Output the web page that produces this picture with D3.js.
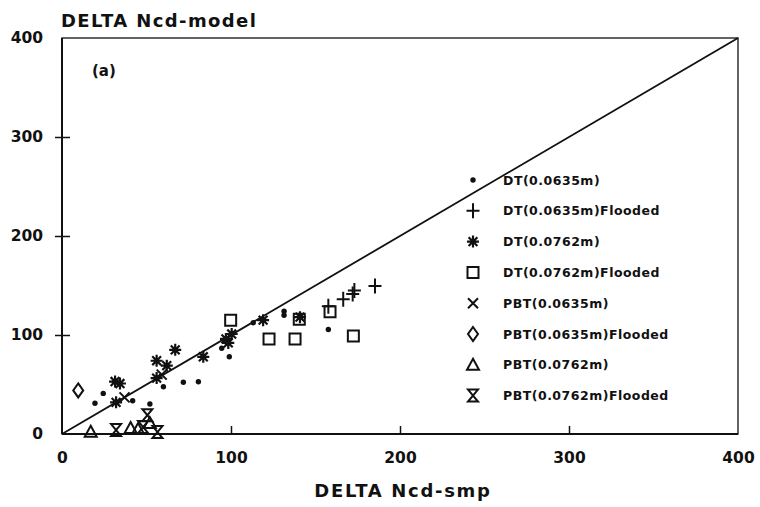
<!DOCTYPE html>
<html>
<head>
<meta charset="utf-8">
<script src="https://cdn.jsdelivr.net/npm/d3@7"></script>
<style>
  body { margin: 0; background: #fff; }
  text { font-family: "DejaVu Sans", sans-serif; font-weight: bold; fill: #111; }
</style>
</head>
<body>
<script>
var width = 760,
    height = 507;

// ticks
var ticks = [0, 100, 200, 300, 400];

// series, [smp, model]
var dt0635 = [[19.5,31],[24.4,41],[41.8,33.6],[52,30.3],[60,47.8],[71.8,52.2],[80.7,52.8],[99,78],[94.5,86.6],[113.2,112.4],[131.4,120],[131.4,124],[157.6,105.5]];
var dt0635F = [[157.6,129],[166.4,136],[172,141.5],[173,145],[185.2,149.5]];
var dt0762 = [[31.4,53],[32,32],[34.3,51],[56,56.5],[56,74],[62,69],[67,85],[83.6,78],[98.4,92],[100.4,101],[97,96],[119,115],[140.8,118]];
var dt0762F = [[99.8,115],[122.5,96],[137.9,96],[140.4,116],[158.6,123.5],[172.4,99]];
var pbt0635 = [[37,37],[59,60]];
var pbt0635F = [[9.6,44]];
var pbt0762 = [[17,2.3],[40.6,6],[45,5],[52,11]];
var pbt0762F = [[32,4],[50.5,19],[56.5,2],[48,7]];

var legendNames = ["DT(0.0635m)", "DT(0.0635m)Flooded", "DT(0.0762m)", "DT(0.0762m)Flooded",
                   "PBT(0.0635m)", "PBT(0.0635m)Flooded", "PBT(0.0762m)", "PBT(0.0762m)Flooded"];

var x = d3.scaleLinear().domain([0, 400]).range([62, 738]);
var y = d3.scaleLinear().domain([0, 400]).range([434, 38]);

var svg = d3.select("body").append("svg")
    .attr("width", width)
    .attr("height", height);

svg.append("rect").attr("width", width).attr("height", height).attr("fill", "#fff");

// marker paths, centred on 0,0
var shapes = {
  dot: "M-2.7,0a2.7,2.7 0 1,0 5.4,0a2.7,2.7 0 1,0 -5.4,0",
  plus: "M-6.5,0H6.5M0,-7.5V7.5",
  star: "M-6,0H6M0,-6V6M-4.4,-4.4L4.4,4.4M-4.4,4.4L4.4,-4.4",
  square: "M-5.5,-5.5H5.5V5.5H-5.5Z",
  cross: "M-5,-5L5,5M-5,5L5,-5",
  diamond: "M0,-7L5,0L0,7L-5,0Z",
  triangle: "M0,-6L6,5H-6Z",
  hourglass: "M-5,-6H5L-5,6H5Z"
};

var series = [
  {data: dt0635, shape: "dot", fill: true},
  {data: dt0635F, shape: "plus"},
  {data: dt0762, shape: "star"},
  {data: dt0762F, shape: "square"},
  {data: pbt0635, shape: "cross"},
  {data: pbt0635F, shape: "diamond"},
  {data: pbt0762, shape: "triangle"},
  {data: pbt0762F, shape: "hourglass"}
];

function styleMarker(sel, s) {
  sel.attr("d", shapes[s.shape])
    .attr("fill", s.fill ? "#111" : "none")
    .attr("stroke", "#111")
    .attr("stroke-width", s.shape == "dot" ? 0 : (s.shape == "star" ? 2.2 : 2));
  if (s.shape == "star") {
    // little core for the asterisk
    sel.each(function() {
      d3.select(this.parentNode).append("circle")
        .attr("transform", d3.select(this).attr("transform"))
        .attr("r", 2.6).attr("fill", "#111");
    });
  }
}

// frame
svg.append("rect")
    .attr("x", x(0)).attr("y", y(400))
    .attr("width", x(400) - x(0)).attr("height", y(0) - y(400))
    .attr("fill", "none").attr("stroke", "#111").attr("stroke-width", 1.3);
svg.append("line")
    .attr("x1", x(0)).attr("x2", x(0)).attr("y1", y(0)).attr("y2", y(400))
    .attr("stroke", "#111").attr("stroke-width", 2);
svg.append("line")
    .attr("x1", x(0)).attr("x2", x(400)).attr("y1", y(0)).attr("y2", y(0))
    .attr("stroke", "#111").attr("stroke-width", 2);

// axes
var xAxis = svg.append("g")
    .attr("transform", "translate(0," + y(0) + ")")
    .call(d3.axisBottom(x).tickValues(ticks).tickSize(-8).tickPadding(18));
var yAxis = svg.append("g")
    .attr("transform", "translate(" + x(0) + ",0)")
    .call(d3.axisLeft(y).tickValues(ticks).tickSizeInner(7).tickSizeOuter(0).tickPadding(12));
[xAxis, yAxis].forEach(function(g) {
  g.select(".domain").remove();
  g.selectAll("text").style("font-size", "15.5px").attr("fill", "#111");
  g.selectAll("line").attr("stroke", "#111").attr("stroke-width", 1.5);
});
xAxis.selectAll(".tick").filter(function(d) { return d == 0 || d == 400; }).select("line").remove();
yAxis.selectAll(".tick").filter(function(d) { return d == 0 || d == 400; }).select("line").remove();
yAxis.selectAll(".tick line").attr("x2", 8).attr("x1", -7);

// 1:1 line
svg.append("line")
    .attr("x1", x(0)).attr("y1", y(0)).attr("x2", x(400)).attr("y2", y(400))
    .attr("stroke", "#111").attr("stroke-width", 1.8);

// points
series.forEach(function(s) {
  svg.append("g").selectAll("path")
      .data(s.data)
    .enter().append("path")
      .attr("transform", function(d) { return "translate(" + x(d[0]) + "," + y(d[1]) + ")"; })
      .call(styleMarker, s);
});

// legend
var leg = svg.append("g").attr("transform", "translate(473,180)");
var row = leg.selectAll(".row")
    .data(series)
  .enter().append("g")
    .attr("transform", function(d, i) { return "translate(0," + (i * 30.8) + ")"; });
row.append("path").each(function(s) { d3.select(this).call(styleMarker, s); });
row.append("text")
    .attr("x", 30).attr("dy", "0.36em")
    .style("font-size", "12.5px").style("letter-spacing", "0.5px")
    .text(function(d, i) { return legendNames[i]; });

// labels
svg.append("text").attr("x", 92).attr("y", 76).style("font-size", "15px").text("(a)");
svg.append("text").attr("x", 61).attr("y", 27)
    .style("font-size", "18px").style("letter-spacing", "1.4px")
    .text("DELTA Ncd-model");
svg.append("text").attr("x", 403).attr("y", 497).attr("text-anchor", "middle")
    .style("font-size", "18px").style("letter-spacing", "1.7px")
    .text("DELTA Ncd-smp");
</script>
</body>
</html>
